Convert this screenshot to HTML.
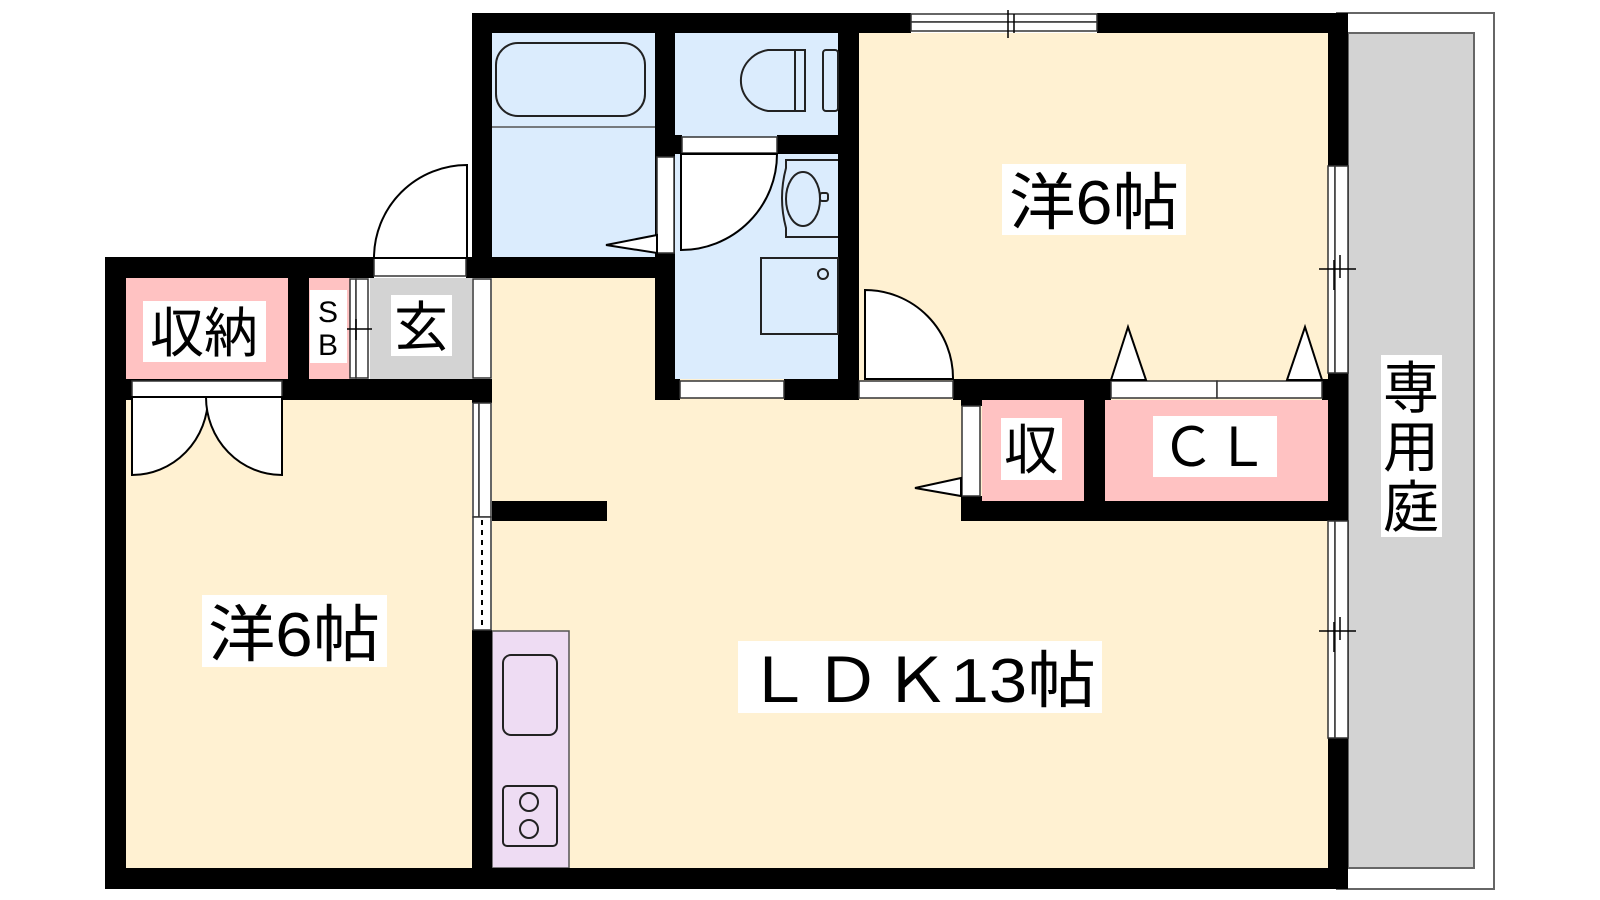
<!DOCTYPE html>
<html><head><meta charset="utf-8"><style>
html,body{margin:0;padding:0;background:#fff;width:1600px;height:900px;overflow:hidden}
svg{display:block}
text{font-family:"Liberation Sans","Noto Sans CJK JP",sans-serif;fill:#000}
</style></head><body>
<svg width="1600" height="900" viewBox="0 0 1600 900" xmlns="http://www.w3.org/2000/svg">
<rect x="1337" y="13" width="157" height="876" fill="#fff" stroke="#666" stroke-width="2"/>
<rect x="1348" y="33" width="126" height="835" fill="#d3d3d3" stroke="#666" stroke-width="2"/>
<rect x="492" y="278" width="836" height="590" fill="#fff1d2"/>
<rect x="859" y="33" width="469" height="346" fill="#fff1d2"/>
<rect x="126" y="400" width="346" height="468" fill="#fff1d2"/>
<rect x="474" y="33" width="181" height="224" fill="#dbecfd"/>
<line x1="474" y1="127" x2="655" y2="127" stroke="#555" stroke-width="1.5"/>
<rect x="675" y="33" width="163" height="346" fill="#dbecfd"/>
<rect x="370" y="278" width="102" height="101" fill="#d3d3d3"/>
<rect x="126" y="278" width="162" height="101" fill="#ffc2c2"/>
<rect x="309" y="278" width="41" height="101" fill="#ffc2c2"/>
<rect x="982" y="400" width="102" height="101" fill="#ffc2c2"/>
<rect x="1105" y="400" width="223" height="101" fill="#ffc2c2"/>
<rect x="492" y="631" width="77" height="237" fill="#eedcf3" stroke="#555" stroke-width="1.5"/>
<g fill="#000">
<rect x="472" y="13" width="439" height="20"/>
<rect x="1097" y="13" width="251" height="20"/>
<rect x="1328" y="13" width="20" height="153"/>
<rect x="1328" y="373" width="20" height="148"/>
<rect x="1328" y="738" width="20" height="151"/>
<rect x="105" y="868" width="1243" height="21"/>
<rect x="105" y="257" width="21" height="632"/>
<rect x="105" y="257" width="269" height="21"/>
<rect x="466" y="257" width="209" height="21"/>
<rect x="472" y="13" width="20" height="265"/>
<rect x="655" y="13" width="20" height="387"/>
<rect x="838" y="13" width="21" height="387"/>
<rect x="675" y="135" width="7" height="19"/>
<rect x="777" y="135" width="61" height="19"/>
<rect x="655" y="379" width="25" height="21"/>
<rect x="784" y="379" width="75" height="21"/>
<rect x="288" y="278" width="21" height="101"/>
<rect x="105" y="379" width="387" height="21"/>
<rect x="472" y="379" width="20" height="24"/>
<rect x="472" y="630" width="20" height="259"/>
<rect x="492" y="501" width="115" height="20"/>
<rect x="953" y="379" width="158" height="21"/>
<rect x="1322" y="379" width="10" height="21"/>
<rect x="961" y="400" width="21" height="6"/>
<rect x="961" y="496" width="21" height="25"/>
<rect x="961" y="501" width="370" height="20"/>
<rect x="1084" y="400" width="21" height="101"/>
</g>
<g fill="#fff" stroke="#333" stroke-width="1.5">
<rect x="911" y="14" width="186" height="8"/><rect x="911" y="22" width="186" height="9"/>
<rect x="1328" y="166" width="7" height="207"/><rect x="1335" y="166" width="13" height="207"/>
<rect x="1328" y="521" width="7" height="217"/><rect x="1335" y="521" width="13" height="217"/>
<rect x="374" y="258" width="92" height="18"/>
<rect x="682" y="137" width="95" height="16"/>
<rect x="680" y="381" width="104" height="17"/>
<rect x="859" y="381" width="94" height="17"/>
<rect x="1111" y="381" width="106" height="17"/>
<rect x="1217" y="381" width="105" height="17"/>
<rect x="962" y="406" width="18" height="90"/>
<rect x="657" y="157" width="17" height="96"/>
<rect x="132" y="381" width="150" height="16"/>
<rect x="473" y="279" width="18" height="99"/>
<rect x="350" y="279" width="6" height="99"/><rect x="356" y="279" width="12" height="99"/>
<rect x="473" y="403" width="6" height="114"/><rect x="479" y="403" width="12" height="114"/>
<rect x="473" y="517" width="18" height="113"/>
</g>
<line x1="482" y1="520" x2="482" y2="628" stroke="#000" stroke-width="2" stroke-dasharray="5,5"/>
<g stroke="#000" stroke-width="1.5" fill="none">
<line x1="1008" y1="10" x2="1008" y2="38"/><line x1="1014" y1="14" x2="1014" y2="33"/>
<line x1="1319" y1="269" x2="1356" y2="269"/><line x1="1334" y1="260" x2="1334" y2="290"/><line x1="1340" y1="255" x2="1340" y2="278"/>
<line x1="1319" y1="631" x2="1356" y2="631"/><line x1="1334" y1="622" x2="1334" y2="652"/><line x1="1340" y1="617" x2="1340" y2="640"/>
<line x1="345" y1="329" x2="372" y2="329"/><line x1="356" y1="319" x2="356" y2="340"/>
</g>
<g fill="#fff" stroke="#000" stroke-width="2">
<path d="M467 258 L467 165 A93 93 0 0 0 374 258 Z"/>
<path d="M681 154 L681 250 A96 96 0 0 0 777 154 Z"/>
<path d="M865 379 L865 290 A88 88 0 0 1 953 379 Z"/>
<path d="M132 397 L132 475 A76 78 0 0 0 208 397 Z"/>
<path d="M282 397 L282 475 A76 78 0 0 1 206 397 Z"/>
<path d="M657 235 L606 245 L657 253 Z"/>
<path d="M961 478 L915 488 L961 496 Z"/>
<path d="M1111 380 L1128 327 L1146 380 Z"/>
<path d="M1287 380 L1305 327 L1322 380 Z"/>
</g>
<g fill="none" stroke="#222" stroke-width="2">
<rect x="496" y="43" width="149" height="73" rx="22"/>
<path d="M805 50 L768 50 A33 31 0 0 0 768 111 L805 111 Z"/>
<line x1="795" y1="50" x2="795" y2="111"/>
<rect x="823" y="50" width="15" height="61" rx="3"/>
<path d="M838 160 L786 160 L786 168 Q778 198 786 228 L786 237 L838 237"/>
<ellipse cx="803" cy="199" rx="17" ry="27"/>
<rect x="820" y="193" width="8" height="8" rx="2"/>
<rect x="761" y="258" width="77" height="76"/>
<circle cx="823" cy="274" r="5"/>
<rect x="503" y="655" width="54" height="80" rx="8"/>
<rect x="503" y="786" width="54" height="60" rx="4"/>
<circle cx="529" cy="802" r="9"/><circle cx="529" cy="829" r="9"/>
</g>
<g fill="#fff">
<rect x="1002" y="164" width="184" height="71"/>
<rect x="202" y="595" width="185" height="72"/>
<rect x="738" y="641" width="364" height="72"/>
<rect x="143" y="301" width="123" height="61"/>
<rect x="310" y="290" width="37" height="73"/>
<rect x="391" y="295" width="61" height="61"/>
<rect x="1001" y="418" width="61" height="62"/>
<rect x="1153" y="416" width="124" height="61"/>
<rect x="1381" y="355" width="61" height="182"/>
</g>
<text x="1094" y="224" font-size="62" text-anchor="middle" textLength="170" lengthAdjust="spacingAndGlyphs">洋6帖</text>
<text x="294" y="656" font-size="62" text-anchor="middle" textLength="172" lengthAdjust="spacingAndGlyphs">洋6帖</text>
<text x="920" y="702" font-size="62" text-anchor="middle" textLength="352" lengthAdjust="spacingAndGlyphs">ＬＤＫ13帖</text>
<text x="204" y="352" font-size="54" text-anchor="middle">収納</text>
<text x="328" y="322" font-size="30" text-anchor="middle">S</text>
<text x="328" y="355" font-size="30" text-anchor="middle">B</text>
<text x="421" y="346" font-size="54" text-anchor="middle">玄</text>
<text x="1031" y="469" font-size="54" text-anchor="middle">収</text>
<text x="1215" y="466" font-size="54" text-anchor="middle">ＣＬ</text>
<text x="1411" y="408" font-size="56" text-anchor="middle">専</text>
<text x="1411" y="467" font-size="56" text-anchor="middle">用</text>
<text x="1411" y="527" font-size="56" text-anchor="middle">庭</text>
</svg>
</body></html>
